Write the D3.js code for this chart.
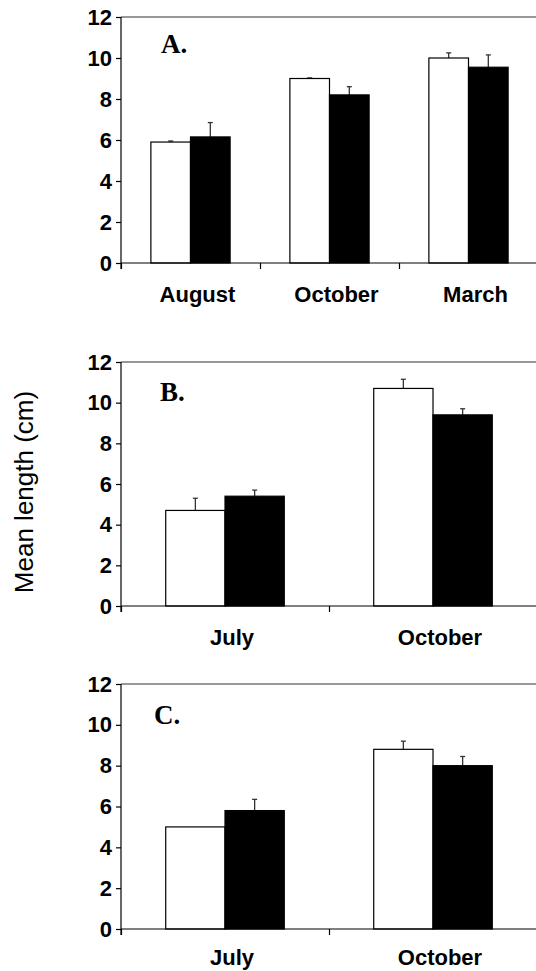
<!DOCTYPE html>
<html>
<head>
<meta charset="utf-8">
<script src="https://cdn.jsdelivr.net/npm/d3@7"></script>
<style>
  body { margin: 0; background: #fff; }
  svg { display: block; }
  .tick text { font-family: "Liberation Sans", Arial, sans-serif; font-weight: bold; font-size: 22px; fill: #000; }
</style>
</head>
<body>
<div id="chart"></div>
<script>
// values (mean length, cm)
var monthsA = ["August", "October", "March"];
var openA = [5.9, 9.0, 10.0];
var openErrA = [0.05, 0.03, 0.25];
var filledA = [6.15, 8.2, 9.55];
var filledErrA = [0.7, 0.4, 0.6];

var monthsB = ["July", "October"];
var openB = [4.7, 10.7];
var openErrB = [0.6, 0.45];
var filledB = [5.4, 9.4];
var filledErrB = [0.3, 0.3];

var monthsC = ["July", "October"];
var openC = [5.0, 8.8];
var openErrC = [0, 0.4];
var filledC = [5.8, 8.0];
var filledErrC = [0.55, 0.45];

var yTicks = [0, 2, 4, 6, 8, 10, 12];

var W = 536, H = 971;
var axisLeft = 121;

var svg = d3.select("#chart")
    .append("svg")
        .attr("width", W)
        .attr("height", H);

// panel layout: top/bottom pixel of the y range, where the letter and month names sit
var panels = [
    { tag: "A.", months: monthsA, open: openA, openErr: openErrA, filled: filledA, filledErr: filledErrA,
      top: 17, bottom: 263, right: 538, lx: 40, ly: 36, my: 39 },
    { tag: "B.", months: monthsB, open: openB, openErr: openErrB, filled: filledB, filledErr: filledErrB,
      top: 362, bottom: 606, right: 537, lx: 39, ly: 39, my: 39 },
    { tag: "C.", months: monthsC, open: openC, openErr: openErrC, filled: filledC, filledErr: filledErrC,
      top: 684, bottom: 929, right: 537, lx: 33, ly: 40, my: 36 }
];

panels.forEach(drawPanel);

function drawPanel(p) {
    var g = svg.append("g");

    var y = d3.scaleLinear().domain([0, 12]).range([p.bottom, p.top]);
    var x = d3.scaleBand().domain(p.months).range([axisLeft, p.right]).paddingInner(0).paddingOuter(0);
    var bw = x.bandwidth();
    var inner = d3.scaleBand().domain(["open", "filled"]).range([0.215 * bw, 0.785 * bw]);

    var rows = p.months.map(function (m, i) {
        return [
            { month: m, key: "open", v: p.open[i], e: p.openErr[i] },
            { month: m, key: "filled", v: p.filled[i], e: p.filledErr[i] }
        ];
    }).flat();

    // top frame line
    g.append("line")
        .attr("x1", axisLeft).attr("x2", W)
        .attr("y1", y(12)).attr("y2", y(12))
        .attr("stroke", "#333").attr("stroke-width", 1.2);

    // error bars (upper only) drawn first so bars sit on them
    var eb = g.selectAll("g.err").data(rows.filter(d => d.e > 0))
        .enter().append("g").attr("class", "err");
    eb.append("line")
        .attr("x1", d => x(d.month) + inner(d.key) + inner.bandwidth() / 2)
        .attr("x2", d => x(d.month) + inner(d.key) + inner.bandwidth() / 2)
        .attr("y1", d => y(d.v))
        .attr("y2", d => y(d.v + d.e))
        .attr("stroke", "#333").attr("stroke-width", 1.3);
    eb.append("line")
        .attr("x1", d => x(d.month) + inner(d.key) + inner.bandwidth() / 2 - 2.5)
        .attr("x2", d => x(d.month) + inner(d.key) + inner.bandwidth() / 2 + 2.5)
        .attr("y1", d => y(d.v + d.e))
        .attr("y2", d => y(d.v + d.e))
        .attr("stroke", "#333").attr("stroke-width", 1.3);

    g.selectAll("rect.bar").data(rows)
        .enter().append("rect")
            .attr("class", "bar")
            .attr("x", d => x(d.month) + inner(d.key))
            .attr("y", d => y(d.v))
            .attr("width", inner.bandwidth())
            .attr("height", d => y(0) - y(d.v))
            .attr("fill", d => d.key == "open" ? "#fff" : "#000")
            .attr("stroke", "#000")
            .attr("stroke-width", 1.2);

    // y axis
    var ya = g.append("g")
        .attr("transform", "translate(" + axisLeft + ",0)")
        .call(d3.axisLeft(y).tickValues(yTicks).tickSize(5).tickSizeOuter(0).tickPadding(4));
    ya.select(".domain").attr("stroke", "#000").attr("stroke-width", 1.2)
        .attr("d", "M0," + (y(0) + 6) + "V" + y(12));
    ya.selectAll(".tick line").attr("stroke", "#000").attr("stroke-width", 1.2);

    // x axis: ticks between categories
    var xb = d3.scaleLinear().domain([0, p.months.length]).range([axisLeft, p.right]);
    var xa = g.append("g")
        .attr("transform", "translate(0," + y(0) + ")")
        .call(d3.axisBottom(xb).tickValues(d3.range(p.months.length)).tickSize(6).tickSizeOuter(0).tickFormat(""));
    xa.select(".domain").attr("stroke", "#000").attr("stroke-width", 1.2)
        .attr("d", "M" + axisLeft + ",0H" + W);
    xa.selectAll(".tick line").attr("stroke", "#000").attr("stroke-width", 1.2);

    g.selectAll("text.month").data(p.months)
        .enter().append("text")
            .attr("class", "month")
            .attr("x", d => x(d) + bw / 2 + 7)
            .attr("y", y(0) + p.my)
            .attr("text-anchor", "middle")
            .attr("font-family", "Liberation Sans, Arial, sans-serif")
            .attr("font-weight", "bold")
            .attr("font-size", 22)
            .text(d => d);

    g.append("text")
        .attr("x", axisLeft + p.lx)
        .attr("y", p.top + p.ly)
        .attr("font-family", "Liberation Serif, Times New Roman, serif")
        .attr("font-weight", "bold")
        .attr("font-size", 27)
        .text(p.tag);
}

svg.append("text")
    .attr("transform", "translate(33,492) rotate(-90)")
    .attr("text-anchor", "middle")
    .attr("font-family", "Liberation Sans, Arial, sans-serif")
    .attr("font-size", 26)
    .text("Mean length (cm)");
</script>
</body>
</html>
